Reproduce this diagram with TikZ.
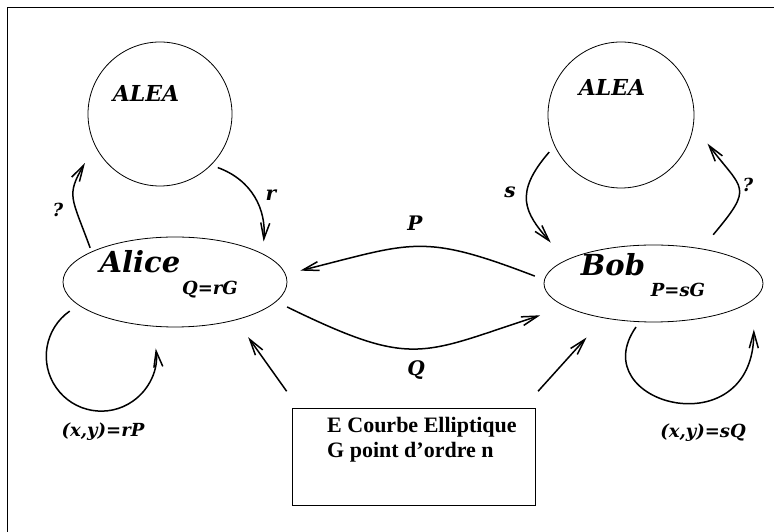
\documentclass[tikz,border=0pt]{standalone}
\usepackage{fontspec}
\setmainfont{Liberation Serif}
\newfontfamily\lblfont{DejaVu Serif}
\usetikzlibrary{arrows.meta,shapes.geometric}

\begin{document}
\begin{tikzpicture}[x=1pt,y=1pt,
  conn/.style={line width=1.5pt, -{Straight Barb[length=16pt,width=9pt]}},
  pool/.style={circle, draw, line width=0.8pt, inner sep=0pt},
  party/.style={ellipse, draw, line width=0.8pt, inner sep=0pt},
  lbl/.style={inner sep=0pt, font=\lblfont\bfseries\itshape\fontsize{#1}{#1}\selectfont},
  lbl/.default=18,
  boxtext/.style={inner sep=0pt, anchor=base west, font=\bfseries\fontsize{22}{26}\selectfont}]

\useasboundingbox (0,0) rectangle (774,532);
\draw[line width=0.8pt] (7,0) -- (7,525) -- (774,525);

% random sources, parties and the shared parameters
\node[pool, minimum size=144pt] (aliceAlea) at (160,418) {};
\node[pool, minimum size=146pt] (bobAlea) at (621,417) {};
\node[party, minimum width=224pt, minimum height=90pt] (alice) at (175,250) {};
\node[party, minimum width=219pt, minimum height=77pt] (bob) at (653.5,248.5) {};
\node[draw, line width=0.8pt, minimum width=243pt, minimum height=97pt, inner sep=0pt] (curve) at (413.5,75.5) {};

% texts
\node[lbl=22] (aliceAleaText) at (146,439) {ALEA};
\node[lbl=22] (bobAleaText) at (612,445) {ALEA};
\node[lbl=29] (aliceName) at (140,270) {Alice};
\node[lbl=18] (aliceKey) at (210,242) {Q=rG};
\node[lbl=18] (bobKey) at (678,242) {P=sG};
\node[lbl=29] (bobName) at (613,267) {Bob};
\node[boxtext] (curveE) at (327,99) {E Courbe Elliptique};
\node[boxtext] (curveG) at (327,74) {G point d’ordre n};

% exchanges
\draw[conn, shorten <=7pt, shorten >=12pt] (aliceAlea.-45) to[out=-20, in=85, looseness=1.1] (alice.18);
\draw[conn, shorten <=4pt, shorten >=20pt] (alice.160) to[out=110, in=240, looseness=1.4] (aliceAlea.206);
\draw[conn] ([shift={(-4,-9.4)}]alice.191) arc[start angle=125, end angle=368, radius=55pt];
\draw[conn, shorten <=6pt, shorten >=30pt] (bob.250) to[out=235, in=270, out distance=100pt, in distance=150pt] (bob.-9);
\draw[conn, shorten <=10pt, shorten >=15pt] (bob.178) to[out=159, in=14, looseness=1.3] (alice.4);
\draw[conn, shorten <=12pt, shorten >=27pt] (alice.-11) to[out=-26, in=198, looseness=1.35] (bob.195);
\draw[conn, shorten <=8pt, shorten >=23pt] (bobAlea.205) to[out=229, in=131, looseness=1.4] (bob.165);
\draw[conn, shorten <=18pt, shorten >=23pt] (bob.36) to[out=50, in=-53, looseness=1.7] (bobAlea.-8);
\draw[conn, shorten <=20pt, shorten >=21pt] (curve.157) -- (alice.-32);
\draw[conn, shorten <=22pt, shorten >=26pt] (curve.24) -- (bob.215);

% edge labels
\node[lbl=18] (aliceAsk) at (58,322) {?};
\node[lbl=20] (rLbl) at (271,337) {r};
\node[lbl=20] (sLbl) at (510,340) {s};
\node[lbl=18] (bobAsk) at (748,347) {?};
\node[lbl=20] (pLbl) at (415,309) {P};
\node[lbl=20] (qLbl) at (416,162) {Q};
\node[lbl] (aliceShared) at (103,100) {(x,y)=rP};
\node[lbl] (bobShared) at (703,99) {(x,y)=sQ};
\end{tikzpicture}
\end{document}
